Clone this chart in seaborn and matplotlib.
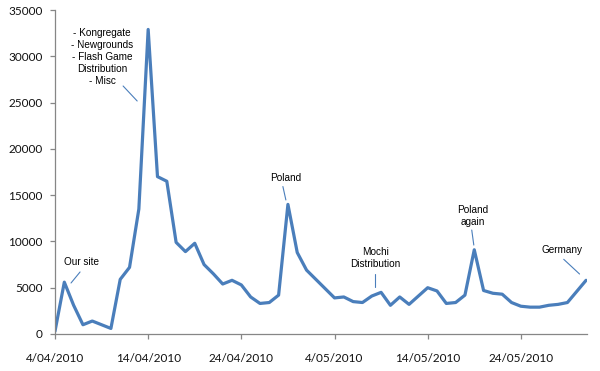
import numpy as np
import pandas as pd
import seaborn as sns
import matplotlib.pyplot as plt
import matplotlib.dates as mdates
from matplotlib.ticker import FuncFormatter

start_date = '2010-04-04'
daily_visits = [
  300, 5600, 3100, 1000, 1400, 1000, 600, 5900, 7200, 13500,
  32900, 17000, 16500, 9900, 8900, 9800, 7500, 6500, 5400, 5800,
  5300, 4000, 3300, 3400, 4200, 14000, 8800, 6900, 5900, 4900,
  3900, 4000, 3500, 3400, 4100, 4500, 3100, 4000, 3200, 4100,
  5000, 4650, 3300, 3400, 4200, 9100, 4700, 4400, 4300, 3400,
  3000, 2900, 2900, 3100, 3200, 3400, 4600, 5800,
]
y_ticks = [0, 5000, 10000, 15000, 20000, 25000, 30000, 35000]
event_labels = [
  'Our site',
  '- Kongregate\n- Newgrounds\n- Flash Game\nDistribution\n- Misc',
  'Poland',
  'Mochi\nDistribution',
  'Poland\nagain',
  'Germany',
]

dates = pd.date_range(start_date, periods=len(daily_visits), freq='D')
df = pd.DataFrame({'date': dates, 'visits': daily_visits})

sns.set_theme(style='white')
plt.rcParams['font.family'] = ['Lato', 'DejaVu Sans']

fig = plt.figure(figsize=(6, 3.71), dpi=100)
ax = fig.add_axes([55/600, 1-334/371, 532/600, 324/371])
sns.lineplot(data=df, x='date', y='visits', ax=ax, color='#4a7ebb', linewidth=2.3)

t0 = mdates.date2num(dates[0])
ax.set_xlim(t0, t0 + 57.1)
ax.set_ylim(0, 35000)
ax.set_yticks(y_ticks)
ax.set_xticks([t0 + 10*i for i in range(6)])
ax.xaxis.set_major_formatter(FuncFormatter(
  lambda v, p: '{d.day}/{d.month:02d}/{d.year}'.format(d=mdates.num2date(v))))
ax.set_xlabel('')
ax.set_ylabel('')

for s in ['top', 'right']:
  ax.spines[s].set_visible(False)
for s in ['left', 'bottom']:
  ax.spines[s].set_color('#868686')
  ax.spines[s].set_linewidth(0.9)
ax.tick_params(axis='both', which='major', direction='out', length=3.6, width=0.9,
               color='#868686', labelsize=8.5, labelcolor='#111111',
               bottom=True, left=True)
ax.tick_params(axis='y', pad=5.5)
ax.tick_params(axis='x', pad=10)

# (text pos, line start, line end) in day / value units
spots = [
  ((2.8, 7780), (2.69, 6700), (1.72, 5510)),
  ((5.05, 29870), (7.31, 26790), (8.82, 25170)),
  ((24.8, 16820), (24.46, 15930), (24.78, 14480)),
  ((34.4, 8210), (34.35, 6480), (34.35, 5080)),
  ((44.8, 12750), (44.73, 11230), (44.95, 9610)),
  ((54.4, 9070), (54.6, 8070), (56.3, 6480)),
]
for lab, (tp, a, b) in zip(event_labels, spots):
  ax.text(t0 + tp[0], tp[1], lab, ha='center', va='center', fontsize=7.2,
          family=['Liberation Sans'], color='black', linespacing=1.25)
  ax.plot([t0 + a[0], t0 + b[0]], [a[1], b[1]], color='#4a7ebb', linewidth=0.8)

plt.savefig('out.png', dpi=100)
